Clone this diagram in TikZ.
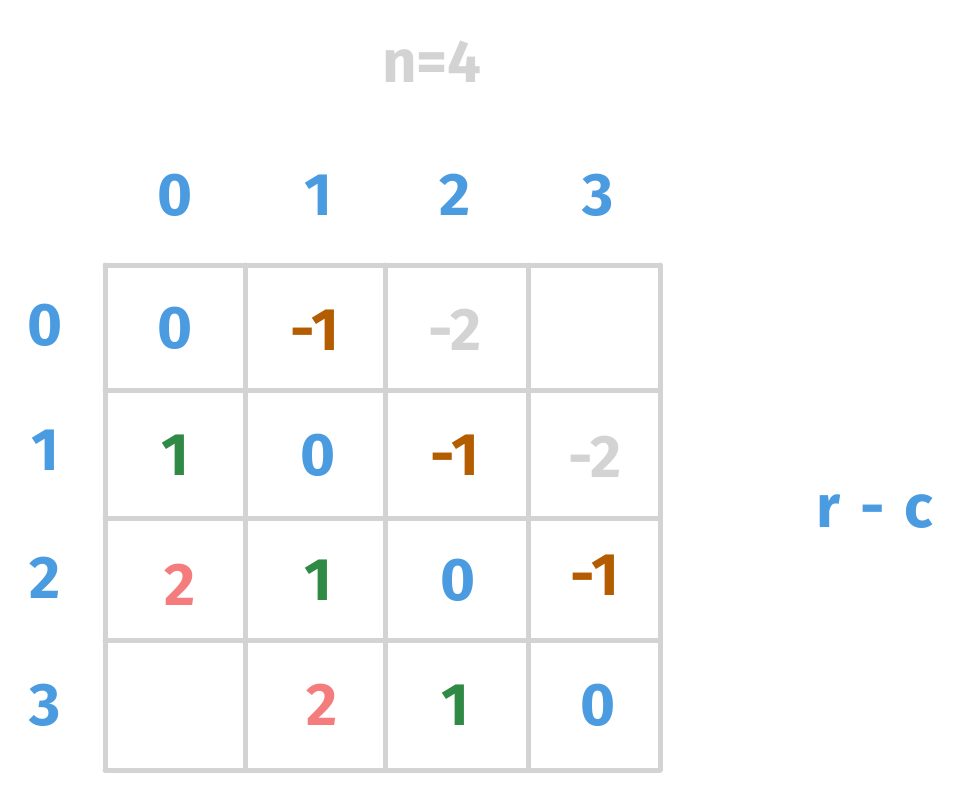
\documentclass[tikz,border=0pt]{standalone}
\usepackage{fontspec}
\setmainfont{Fira Sans}
\definecolor{cblue}{HTML}{4A9BE0}
\definecolor{corange}{HTML}{B35C00}
\definecolor{cgray}{HTML}{D3D3D3}
\definecolor{cgreen}{HTML}{2F8A45}
\definecolor{cred}{HTML}{F47C7C}
\begin{document}
\begin{tikzpicture}[x=1pt,y=-1pt,
  num/.style={font=\fontsize{60}{64}\selectfont\bfseries},
  gridline/.style={cgray,line width=5pt,line cap=round}]
\useasboundingbox (0,0) rectangle (971,790);
\node[num,cgray] (n) at (432,62) {n=4};
\foreach \x/\t [count=\i] in {175/0,318/1,455/2,598/3}
  \node[num,cblue] (ch\i) at (\x,195) {\t};
\foreach \y/\t [count=\i] in {325/0,450/1,578/2,705/3}
  \node[num,cblue] (rh\i) at (45,\y) {\t};
\foreach \x in {105,245,385,528,660}
  \draw[gridline] (\x,265) -- (\x,770);
\foreach \y in {265,390,518,640,770}
  \draw[gridline] (105,\y) -- (660,\y);
% row 0
\node[num,cblue] (c00) at (175,328) {0};
\node[num,corange] (c01) at (315,330) {-1};
\node[num,cgray] (c02) at (455,330) {-2};
% row 1
\node[num,cgreen] (c10) at (175,455) {1};
\node[num,cblue] (c11) at (318,455) {0};
\node[num,corange] (c12) at (455,455) {-1};
\node[num,cgray] (c13) at (595,457) {-2};
% row 2
\node[num,cred] (c20) at (180,585) {2};
\node[num,cgreen] (c21) at (318,580) {1};
\node[num,cblue] (c22) at (458,580) {0};
\node[num,corange] (c23) at (595,575) {-1};
% row 3
\node[num,cred] (c31) at (322,705) {2};
\node[num,cgreen] (c32) at (455,705) {1};
\node[num,cblue] (c33) at (598,705) {0};
\node[num,cblue] (rc) at (875,512) {r\,\,-\,\,c};
\end{tikzpicture}
\end{document}
